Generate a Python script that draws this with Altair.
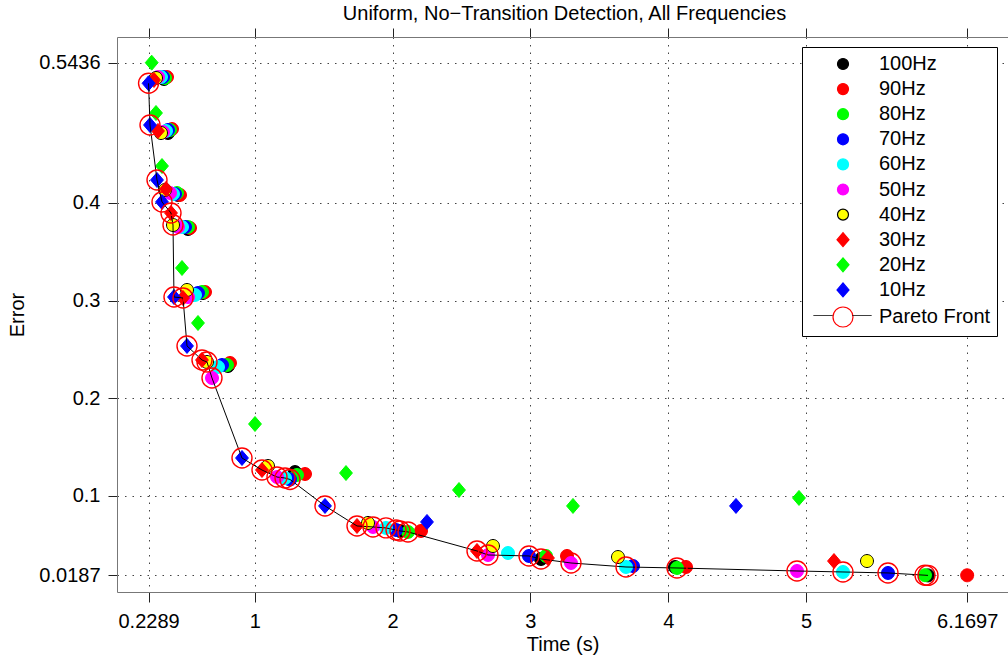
import altair as alt
import pandas as pd

# ---------------- data ----------------
series_names = ["100Hz", "90Hz", "80Hz", "70Hz", "60Hz", "50Hz", "40Hz", "30Hz", "20Hz", "10Hz"]

time_100 = [0.3411, 0.3701, 0.4427, 0.5152, 0.6241, 0.8055, 1.2917, 2.0537, 3.0769, 4.0493, 5.8854]
err_100 = [0.5269, 0.4716, 0.4082, 0.3733, 0.3078, 0.2331, 0.1245, 0.0642, 0.0355, 0.0273, 0.0187]

time_90 = [0.3628, 0.3991, 0.4572, 0.5298, 0.6386, 0.8200, 1.3643, 2.2061, 3.2656, 4.1292, 6.1697]
err_90 = [0.5289, 0.4757, 0.4082, 0.3744, 0.3088, 0.2362, 0.1225, 0.0642, 0.0386, 0.0273, 0.0188]

time_80 = [0.3483, 0.3846, 0.4354, 0.5152, 0.6168, 0.7983, 1.3062, 2.1118, 3.1132, 4.0639, 5.8636]
err_80 = [0.5279, 0.4747, 0.4102, 0.3754, 0.3088, 0.2341, 0.1215, 0.0632, 0.0386, 0.0263, 0.0189]

time_70 = [0.3338, 0.3701, 0.4209, 0.4935, 0.5878, 0.7620, 1.2554, 2.0247, 2.9898, 3.7446, 5.5951]
err_70 = [0.5289, 0.4747, 0.4092, 0.3754, 0.3078, 0.2341, 0.1169, 0.0652, 0.0386, 0.0283, 0.0212]

time_60 = [0.3193, 0.3556, 0.4064, 0.4717, 0.5660, 0.7329, 1.2192, 1.9521, 2.8374, 3.6938, 5.2685]
err_60 = [0.5289, 0.4737, 0.4092, 0.3754, 0.3058, 0.2321, 0.1184, 0.0673, 0.0416, 0.0273, 0.0222]

time_50 = [0.2975, 0.3338, 0.3846, 0.4427, 0.5152, 0.6894, 1.1611, 1.8578, 2.6923, 3.2946, 4.9347]
err_50 = [0.5289, 0.4726, 0.4102, 0.3754, 0.3037, 0.2208, 0.1194, 0.0683, 0.0396, 0.0314, 0.0232]

time_40 = [0.2830, 0.3193, 0.3483, 0.4064, 0.5080, 0.6531, 1.0958, 1.8215, 2.7286, 3.6357, 5.4427]
err_40 = [0.5279, 0.4716, 0.4133, 0.3774, 0.3109, 0.2372, 0.1307, 0.0724, 0.0488, 0.0375, 0.0334]

time_30 = [0.2685, 0.2975, 0.3556, 0.3919, 0.4790, 0.6168, 1.0522, 1.7417, 2.6125, 3.1277, 5.2032]
err_30 = [0.5259, 0.4737, 0.4143, 0.3897, 0.3027, 0.2392, 0.1266, 0.0693, 0.0437, 0.0365, 0.0334]

time_20 = [0.2518, 0.2830, 0.3266, 0.4717, 0.5878, 1.0015, 1.6618, 2.4819, 3.3091, 4.9492]
err_20 = [0.5436, 0.4921, 0.4378, 0.3334, 0.2771, 0.1737, 0.1235, 0.1061, 0.0898, 0.0980]

time_10 = [0.2289, 0.2395, 0.2903, 0.3266, 0.4136, 0.5080, 0.9071, 1.5094, 2.2496, 4.4920]
err_10 = [0.5225, 0.4798, 0.4235, 0.4010, 0.3037, 0.2536, 0.1389, 0.0898, 0.0734, 0.0898]

x_ticks = [0.2289, 1, 2, 3, 4, 5, 6.1697]
y_ticks = [0.0187, 0.1, 0.2, 0.3, 0.4, 0.5436]

times = [time_100, time_90, time_80, time_70, time_60, time_50, time_40, time_30, time_20, time_10]
errs = [err_100, err_90, err_80, err_70, err_60, err_50, err_40, err_30, err_20, err_10]

# ---------------- styles ----------------
CIRCLE = "M-0.55,0A0.55,0.55,0,1,1,0.55,0A0.55,0.55,0,1,1,-0.55,0Z"
DIAMOND = "M0,-0.7L0.6,0L0,0.7L-0.6,0Z"
RING = "M-1,0A1,1,0,1,1,1,0A1,1,0,1,1,-1,0Z"
SEGMENTS = "M-2.9,0L-1,0M1,0L2.9,0"

legend_domain = series_names + ["Pareto Front"]
fill_range = ["#000000", "#ff0000", "#00ff00", "#0000ff", "#00ffff", "#ff00ff", "#ffff00",
              "#ff0000", "#00ff00", "#0000ff", "transparent"]
stroke_range = ["#000000", "#ff0000", "#00ff00", "#0000ff", "#00ffff", "#ff00ff", "#000000",
                "#ff0000", "#00ff00", "#0000ff", "#ff0000"]
shape_range = [CIRCLE] * 7 + [DIAMOND] * 3 + [RING]
size_for = {s: (558 if i < 7 else 459) for i, s in enumerate(series_names)}

rows = []
for name, ts, es in zip(series_names, times, errs):
    for t, e in zip(ts, es):
        rows.append({"series": name, "time": t, "error": e, "msize": size_for[name]})
df = pd.DataFrame(rows)

# Pareto front derived from the data
front = []
best = float("inf")
for t, e in sorted(zip(df["time"], df["error"])):
    if e < best:
        front.append({"time": t, "error": e, "pf": "Pareto Front"})
        best = e
front_df = pd.DataFrame(front)

FONT = "Liberation Sans"
xscale = alt.Scale(domain=[0, 6.466], nice=False, zero=False)
yscale = alt.Scale(domain=[0.0017, 0.5699], nice=False, zero=False)

y_enc = alt.Y("error:Q", scale=yscale,
              axis=alt.Axis(values=y_ticks, format=".4~f", title="Error", tickSize=9,
                            labelPadding=8, titlePadding=11, grid=True))

ROWPAD = 4.1
legend = alt.Legend(orient="none", legendX=685, legendY=10, title=None,
                    strokeColor="black", fillColor="white", padding=6,
                    symbolSize=400, symbolOffset=24, labelOffset=25,
                    labelFontSize=20, labelFont=FONT, labelColor="black",
                    rowPadding=ROWPAD, symbolStrokeWidth=1.2, labelLimit=300)

# overlay legend that adds the black line of the "Pareto Front" entry
legend_line = alt.Legend(orient="none", legendX=685, legendY=10 + 10 * (21.1 + ROWPAD),
                         title=None, padding=6, symbolSize=400, symbolOffset=24,
                         symbolType=SEGMENTS,
                         labelOffset=25, labelFontSize=20, labelFont=FONT,
                         labelOpacity=0, symbolStrokeColor="black",
                         symbolStrokeWidth=1, symbolFillColor="transparent", labelLimit=300)

scatter = alt.Chart(df).mark_point(filled=True, opacity=1, strokeWidth=1).encode(
    x=alt.X("time:Q", scale=xscale,
            axis=alt.Axis(values=x_ticks, format=".4~f", title="Time (s)", orient="bottom",
                          tickSize=10, labelPadding=9, titlePadding=3, grid=True,
                          labelFlush=False, labelOverlap=False)),
    y=y_enc,
    fill=alt.Fill("series:N", scale=alt.Scale(domain=legend_domain, range=fill_range), legend=legend),
    stroke=alt.Stroke("series:N", scale=alt.Scale(domain=legend_domain, range=stroke_range), legend=legend),
    shape=alt.Shape("series:N", scale=alt.Scale(domain=legend_domain, range=shape_range), legend=legend),
    size=alt.Size("msize:Q", scale=None),
)

line = alt.Chart(front_df).mark_line(color="black", strokeWidth=1).encode(
    x=alt.X("time:Q", scale=xscale,
            axis=alt.Axis(values=x_ticks, orient="top", labels=False, title=None,
                          tickSize=9, grid=False)),
    y=y_enc,
    order="time:Q",
)

rings = alt.Chart(front_df).mark_point(shape="circle", size=400, color="#ff0000",
                                       strokeWidth=1.4, filled=False, opacity=1).encode(
    x=alt.X("time:Q", scale=xscale, axis=None),
    y=y_enc,
)

# no marks drawn (filtered out); only supplies the line part of the legend symbol
legend_helper = alt.Chart(front_df).transform_filter("false").mark_point(
    filled=False, opacity=1, color="black", strokeWidth=1).encode(
    x=alt.X("time:Q", scale=xscale, axis=None),
    y=y_enc,
    strokeDash=alt.StrokeDash("pf:N", scale=alt.Scale(domain=["Pareto Front"], range=[[1, 0]]),
                              legend=legend_line),
)

chart = alt.layer(scatter, line, rings, legend_helper).resolve_axis(x="independent").properties(
    width=891, height=555,
    autosize=alt.AutoSizeParams(type="none"),
    padding={"left": 117, "top": 37, "right": 0, "bottom": 70},
    title=alt.TitleParams("Uniform, No\u2212Transition Detection, All Frequencies",
                          fontSize=20, fontWeight="normal", font=FONT, color="black",
                          anchor="middle", offset=4, dx=2),
).configure_view(stroke=None).configure_axis(
    labelFont=FONT, titleFont=FONT, labelFontSize=20, titleFontSize=20,
    titleFontWeight="normal", labelColor="black", titleColor="black",
    tickColor="#222222", domainColor="#777777", domainWidth=1, tickWidth=1,
    gridColor="#444444", gridDash=[1.5, 6], gridWidth=1, gridOpacity=1,
)

chart.save("out.html", embed_options={"renderer": "svg", "actions": False})
